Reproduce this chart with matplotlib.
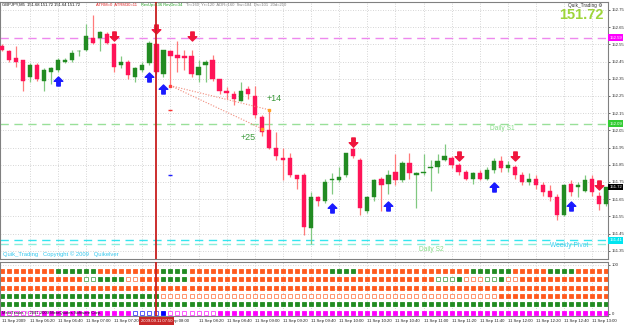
import matplotlib.pyplot as plt
import matplotlib.transforms as mtransforms
from matplotlib.path import Path

plt.rcParams['font.family'] = ['Liberation Sans', 'DejaVu Sans']

# GBPJPY M5, 11 Sep 2009, bars from 06:00 to 13:10
opens = [
    152.54, 152.51, 152.47, 152.46, 152.36, 152.43, 152.34, 152.39, 152.40, 152.45,
    152.46, 152.51, 152.52, 152.59, 152.59, 152.61, 152.55, 152.43, 152.45, 152.36,
    152.40, 152.44, 152.55, 152.38, 152.51, 152.49, 152.48, 152.48, 152.37, 152.43,
    152.46, 152.35, 152.28, 152.26, 152.22, 152.29, 152.25, 152.13, 152.05, 151.95,
    151.89, 151.89, 151.79, 151.79, 151.48, 151.66, 151.64, 151.76, 151.76, 151.79,
    151.94, 151.88, 151.58, 151.66, 151.77, 151.74, 151.81, 151.76, 151.86, 151.79,
    151.80, 151.83, 151.84, 151.88, 151.89, 151.85, 151.81, 151.77, 151.80, 151.77,
    151.82, 151.87, 151.83, 151.84, 151.79, 151.75, 151.77, 151.73, 151.70, 151.66,
    151.56, 151.74, 151.72, 151.70, 151.77, 151.67, 151.62]
highs = [
    152.55, 152.52, 152.54, 152.46, 152.44, 152.44, 152.41, 152.42, 152.47, 152.47,
    152.52, 152.52, 152.67, 152.72, 152.63, 152.62, 152.56, 152.48, 152.46, 152.42,
    152.45, 152.57, 152.56, 152.52, 152.52, 152.57, 152.52, 152.52, 152.46, 152.46,
    152.49, 152.35, 152.30, 152.28, 152.33, 152.31, 152.31, 152.14, 152.17, 152.04,
    151.95, 151.92, 151.79, 151.80, 151.69, 151.67, 151.77, 151.80, 151.84, 151.92,
    151.96, 151.89, 151.67, 151.77, 151.78, 151.82, 151.91, 151.87, 151.92, 151.81,
    151.91, 151.88, 151.91, 151.97, 151.90, 151.86, 151.82, 151.81, 151.82, 151.84,
    151.89, 151.90, 151.87, 151.85, 151.81, 151.80, 151.79, 151.75, 151.73, 151.68,
    151.74, 151.76, 151.75, 151.79, 151.79, 151.69, 151.72]
lows = [
    152.51, 152.45, 152.42, 152.28, 152.33, 152.34, 152.28, 152.32, 152.39, 152.44,
    152.45, 152.48, 152.51, 152.55, 152.51, 152.55, 152.39, 152.41, 152.35, 152.33,
    152.39, 152.43, 152.38, 152.36, 152.30, 152.39, 152.40, 152.36, 152.33, 152.33,
    152.34, 152.26, 152.23, 152.20, 152.22, 152.23, 152.12, 152.02, 151.94, 151.88,
    151.76, 151.78, 151.71, 151.44, 151.39, 151.61, 151.63, 151.68, 151.75, 151.78,
    151.89, 151.56, 151.57, 151.64, 151.58, 151.68, 151.73, 151.75, 151.77, 151.60,
    151.79, 151.70, 151.80, 151.87, 151.83, 151.79, 151.76, 151.74, 151.76, 151.76,
    151.80, 151.81, 151.81, 151.77, 151.73, 151.73, 151.71, 151.67, 151.64, 151.53,
    151.55, 151.67, 151.66, 151.69, 151.67, 151.59, 151.61]
closes = [
    152.52, 152.46, 152.45, 152.34, 152.43, 152.35, 152.40, 152.41, 152.46, 152.46,
    152.50, 152.51, 152.60, 152.56, 152.62, 152.56, 152.42, 152.45, 152.37, 152.41,
    152.43, 152.56, 152.39, 152.52, 152.48, 152.47, 152.47, 152.38, 152.42, 152.45,
    152.35, 152.28, 152.27, 152.23, 152.28, 152.26, 152.14, 152.04, 151.95, 151.90,
    151.88, 151.79, 151.77, 151.49, 151.66, 151.64, 151.75, 151.77, 151.78, 151.92,
    151.90, 151.60, 151.66, 151.76, 151.73, 151.79, 151.76, 151.86, 151.80, 151.80,
    151.81, 151.84, 151.87, 151.90, 151.85, 151.81, 151.77, 151.80, 151.77, 151.82,
    151.87, 151.83, 151.85, 151.79, 151.75, 151.77, 151.73, 151.69, 151.66, 151.56,
    151.73, 151.69, 151.73, 151.76, 151.69, 151.62, 151.72]

# signal arrows
buy_bars = [8, 21, 23, 47, 55, 70, 81]
buy_prices = [152.34, 152.36, 152.29, 151.60, 151.61, 151.72, 151.61]
sell_bars = [16, 22, 27, 50, 65, 73, 85]
sell_prices = [152.60, 152.64, 152.60, 151.98, 151.90, 151.90, 151.73]

# trade lines from the low of bar 24
trade_start = (24, 152.31)
trade_end_bars = [38, 37]
trade_end_prices = [152.17, 152.06]
trade_labels = ['+14', '+25']
stop_mark = (24, 152.17)
target_mark = (24, 151.79)

# horizontal levels
level_prices = [152.59, 152.09, 151.41, 151.39]
level_colors = ['#ee88ee', '#99e099', '#33e6f0', '#88eedd']
level_box_colors = ['#ff00ff', '#33cc33', '#00e5f0', None]
last_price = 151.72

price_ticks = [151.35, 151.45, 151.55, 151.65, 151.75, 151.85, 151.95, 152.05,
               152.15, 152.25, 152.35, 152.45, 152.55, 152.65, 152.75]

# the 07:40 label sits under the cursor box, only "Sep 08:00" shows next to it
time_bars = [0, 4, 8, 12, 16, 24, 28, 32, 36, 40, 44, 48, 52, 56, 60, 64, 68, 72, 76, 80, 84]
time_labels = ['11 Sep 2009', '11 Sep 06:20', '11 Sep 06:40', '11 Sep 07:00', '11 Sep 07:20',
               'Sep 08:00', '11 Sep 08:20', '11 Sep 08:40', '11 Sep 09:00',
               '11 Sep 09:20', '11 Sep 09:40', '11 Sep 10:00', '11 Sep 10:20', '11 Sep 10:40',
               '11 Sep 11:00', '11 Sep 11:20', '11 Sep 11:40', '11 Sep 12:00', '11 Sep 12:20',
               '11 Sep 12:40', '11 Sep 13:00']
grid_bars = [4, 8, 12, 16, 20, 24, 28, 32, 36, 40, 44, 48, 52, 56, 60, 64, 68, 72, 76, 80, 84]
cursor_bar = 22
cursor_label = '2009.09.11 07:50'

# indicator window: run-length states per row
# R/r = orange filled/hollow, G/g = green, M/m = magenta, B/b = blue
ind_rows = [
    [('R', 8), ('G', 6), ('R', 9), ('G', 4), ('R', 20), ('G', 4), ('R', 16), ('G', 6),
     ('R', 5), ('G', 4), ('R', 5)],
    [('R', 12), ('g', 2), ('G', 4), ('r', 2), ('R', 3), ('G', 4), ('R', 35), ('g', 3),
     ('G', 1), ('r', 3), ('g', 2), ('G', 1), ('r', 2), ('R', 13)],
    [('R', 87)],
    [('G', 23), ('r', 48), ('R', 16)],
    [('G', 87)],
    [('M', 1), ('m', 5), ('M', 13), ('b', 4), ('B', 1), ('m', 7), ('M', 56)],
]
row_levels = [88, 71, 54, 37, 20, 3]
square_colors = {'R': '#ff5a1e', 'G': '#228b22', 'M': '#ff00ff', 'B': '#0000ff'}

# ---------------------------------------------------------------
W, H = 625, 327
SMALL = 3.1


def px_box(x0, y0, x1, y1):
    return [x0 / W, 1 - y1 / H, (x1 - x0) / W, (y1 - y0) / H]


def ftext(x, y, s, **kw):
    fig.text(x / W, 1 - y / H, s, **kw)


fig = plt.figure(figsize=(6.25, 3.27), dpi=100)
ax = fig.add_axes(px_box(0, 2, 608, 259))
axs = fig.add_axes(px_box(0, 262, 608, 316))

n = len(opens)
x = list(range(n))
for a in (ax, axs):
    a.set_xlim(-0.242, 86.24)
    a.set_xticks([])
    for sp in a.spines.values():
        sp.set_color('#808080')
        sp.set_linewidth(0.8)
ax.set_ylim(151.3023, 152.7965)
axs.set_ylim(-4.1, 106.1)

grid_kw = dict(color='#c8c8c8', lw=0.6, ls=(0, (1, 2)), zorder=0)
for b in grid_bars:
    ax.axvline(b, **grid_kw)
    axs.axvline(b, **grid_kw)
for p in price_ticks:
    ax.axhline(p, **grid_kw)
for lv in [100, 50]:
    axs.axhline(lv, **grid_kw)

# levels
for p, c in zip(level_prices, level_colors):
    ax.axhline(p, color=c, lw=1.0, ls=(0, (6, 4)), zorder=1)

# candles
bull = [c >= o for o, c in zip(opens, closes)]
wick_cols = ['#80c880' if b else '#ff7a7a' for b in bull]
body_cols = ['#228b22' if b else '#ff1458' for b in bull]
ax.vlines(x, lows, highs, colors=wick_cols, lw=0.9, zorder=2)
bottoms = [min(o, c) for o, c in zip(opens, closes)]
heights = [max(abs(c - o), 0.004) for o, c in zip(opens, closes)]
ax.bar(x, heights, bottom=bottoms, width=0.62, color=body_cols,
       edgecolor=body_cols, lw=0.3, zorder=3)

# arrows
up_arrow = Path([(0, 1), (0.95, 0.05), (0.38, 0.05), (0.38, -1), (-0.38, -1),
                 (-0.38, 0.05), (-0.95, 0.05), (0, 1)],
                [Path.MOVETO] + [Path.LINETO] * 6 + [Path.CLOSEPOLY])
down_arrow = Path([(vx, -vy) for vx, vy in up_arrow.vertices], up_arrow.codes)
ax.plot(buy_bars, buy_prices, ls='none', marker=up_arrow, ms=6.5, color='#1a1aff', zorder=4)
ax.plot(sell_bars, sell_prices, ls='none', marker=down_arrow, ms=6.5, color='#f0143c', zorder=4)

# trade lines
for eb, ep in zip(trade_end_bars, trade_end_prices):
    ax.plot([trade_start[0], eb], [trade_start[1], ep], color='#f08a7a', lw=0.8,
            ls=(0, (1, 1.5)), zorder=4)
    ax.plot(eb, ep, marker='s', ms=1.5, color='#ffa020', zorder=5)
ax.plot(*trade_start, marker='s', ms=1.5, color='#ff4040', zorder=5)
ax.text(trade_end_bars[0] - 0.3, trade_end_prices[0] + 0.065, trade_labels[0], fontsize=6.5,
        color='#3c9a3c', ha='left', va='center')
ax.text(35.1, trade_end_prices[1] - 0.05, trade_labels[1], fontsize=6.5,
        color='#3c9a3c', ha='center', va='center')
ax.plot(*stop_mark, marker='_', ms=3, mew=1, color='#ff3030', zorder=5)
ax.plot(*target_mark, marker='_', ms=3, mew=1, color='#2020ff', zorder=5)

# cursor line
ax.axvline(cursor_bar, color='#c81e1e', lw=1.3, zorder=6)
axs.axvline(cursor_bar, color='#c81e1e', lw=1.3, zorder=6)

# level texts
ax.text(69.5, level_prices[1] - 0.03, 'Daily S1', fontsize=4.8, color='#88dd88', ha='left', va='center')
ax.text(59.3, level_prices[3] - 0.035, 'Daily S2', fontsize=4.8, color='#88dd88', ha='left', va='center')
ax.text(78.0, level_prices[2] - 0.03, 'Weekly Pivot', fontsize=4.8, color='#33ccee', ha='left', va='center')

# right axis
ax.yaxis.tick_right()
ax.set_yticks(price_ticks)
ax.set_yticklabels([f'{p:.2f}' for p in price_ticks])
ax.tick_params(axis='y', labelsize=SMALL, length=1.5, width=0.5, pad=1.0, colors='#303030')
yt = mtransforms.blended_transform_factory(ax.transAxes, ax.transData)
for p, bc in zip(level_prices, level_box_colors):
    if bc:
        ax.text(1.002, p, f'{p:.2f}', transform=yt, fontsize=SMALL, color='white',
                ha='left', va='center', bbox=dict(boxstyle='square,pad=0.3', fc=bc, ec='none'), zorder=7)
ax.text(1.002, last_price, f'{last_price:.2f}', transform=yt, fontsize=SMALL, color='white',
        ha='left', va='center', bbox=dict(boxstyle='square,pad=0.3', fc='black', ec='none'), zorder=7)

# indicator squares
for row, lv in zip(ind_rows, row_levels):
    states = ''.join(s * k for s, k in row)
    for code in 'RGMBrgmb':
        xs = [i for i, s in enumerate(states) if s == code]
        if not xs:
            continue
        col = square_colors[code.upper()]
        filled = code.isupper()
        axs.plot(xs, [lv] * len(xs), ls='none', marker='s', ms=3,
                 mfc=col if filled else 'white', mec=col, mew=0.6, alpha=1 if filled else 0.75)
axs.yaxis.tick_right()
axs.set_yticks([0, 100])
axs.set_yticklabels(['0', '100'])
axs.tick_params(axis='y', labelsize=SMALL, length=1.5, width=0.5, pad=1.0, colors='#303030')

# time axis
xt = mtransforms.blended_transform_factory(axs.transData, axs.transAxes)
for b, lab in zip(time_bars, time_labels):
    axs.text(b, -0.095, lab, transform=xt, fontsize=SMALL, ha='left', va='center', color='#202020')
axs.text(cursor_bar, -0.095, cursor_label, transform=xt, fontsize=3.0, ha='center',
         va='center', color='white', bbox=dict(boxstyle='square,pad=0.5', fc='#c82828', ec='none'), zorder=8)

# header texts
ftext(2, 5, 'GBPJPY,M5  151.68 151.72 151.64 151.72', fontsize=3.0, color='#101010', va='center')
ftext(96, 5, 'ATRM=0  ATRM30=11', fontsize=3.0, color='#e02020', va='center')
ftext(141, 5, 'RevUp=136 RevDn=34', fontsize=2.9, color='#20a020', va='center')
ftext(186, 5, 'Tr=160  Yr=120  ADR=160  Sw=184  Ds=101  20d=210', fontsize=3.0,
      color='#808080', va='center')
ftext(603, 5, 'Quik_Trading \u2699', fontsize=3.4, color='#303030', ha='right', va='center')
ftext(604, 15, f'{last_price:.2f}', fontsize=10.5, fontweight='bold', color='#9ed53a', ha='right', va='center')
ftext(3, 254, 'Quik_Trading   Copyright \u00a9 2009   Quikelver', fontsize=4.2, color='#33c8ee', va='center')
ftext(2, 313, 'MetaTrader, \u00a9 2001-2009 MetaQuotes Software Corp.', fontsize=3.0,
      color='#101010', va='center')

fig.savefig('out.png', dpi=100)
